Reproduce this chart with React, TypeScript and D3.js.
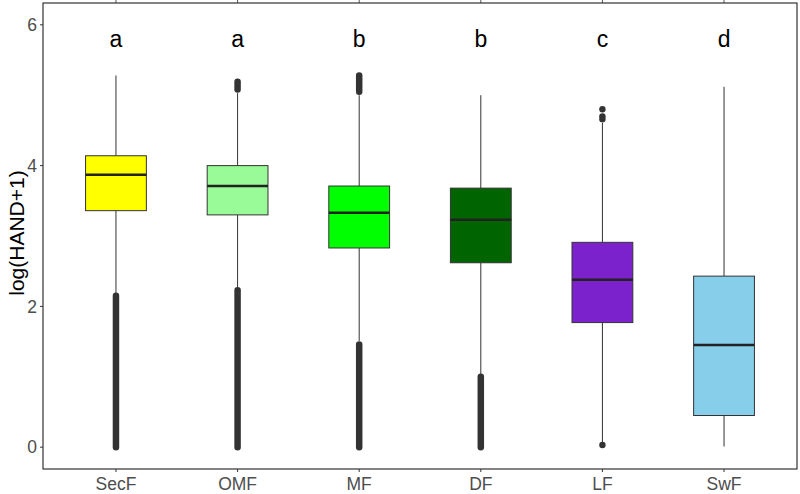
import React from "react";
import * as d3 from "d3";

// categories and box stats
const categories = ["SecF", "OMF", "MF", "DF", "LF", "SwF"];
const letters = ["a", "a", "b", "b", "c", "d"];
const colors = ["#FFFF00", "#98FB98", "#00FF00", "#006400", "#7B22CC", "#87CEEB"];
const q1 = [3.36, 3.3, 2.83, 2.62, 1.77, 0.45];
const median = [3.87, 3.71, 3.33, 3.23, 2.38, 1.45];
const q3 = [4.14, 4.0, 3.71, 3.68, 2.91, 2.43];
const whiskerLow = [2.19, 2.26, 1.51, 1.04, 0.06, 0.01];
const whiskerHigh = [5.28, 5.03, 5.0, 5.0, 4.61, 5.12];
// dense outlier runs [from, to] and single outliers
const outlierRuns: [string, number, number][] = [
  ["SecF", 0, 2.15],
  ["OMF", 0, 2.23],
  ["OMF", 5.08, 5.19],
  ["MF", 0, 1.46],
  ["MF", 5.05, 5.28],
  ["DF", 0, 1.0],
];
const outlierPoints: [string, number][] = [
  ["LF", 4.66],
  ["LF", 4.8],
  ["LF", 4.7],
  ["LF", 0.03],
];
const yTicks = [0, 2, 4, 6];

const W = 800;
const H = 494;
const m = { left: 43, right: 3, top: 3, bottom: 25 };

export default function App() {
  const x = d3
    .scalePoint<string>()
    .domain(categories)
    .range([m.left, W - m.right])
    .padding(0.6);
  const step = x.step();
  const boxW = step * 0.5;
  const y = d3.scaleLinear().domain([-0.31, 6.31]).range([H - m.bottom, m.top]);

  const axisGray = "#4D4D4D";
  const font = "'Liberation Sans', Arial, sans-serif";

  return (
    <svg
      width={W}
      height={H}
      style={{ position: "absolute", left: 0, top: 0, background: "#fff" }}
    >
      {/* top ticks */}
      {categories.map((c) => (
        <line key={"tt" + c} x1={x(c)} x2={x(c)} y1={0} y2={m.top} stroke="#555" strokeWidth={1} />
      ))}
      {/* boxes */}
      {categories.map((c, i) => {
        const cx = x(c)!;
        return (
          <g key={c}>
            <line x1={cx} x2={cx} y1={y(q3[i])} y2={y(whiskerHigh[i])} stroke="#333" strokeWidth={1} />
            <line x1={cx} x2={cx} y1={y(q1[i])} y2={y(whiskerLow[i])} stroke="#333" strokeWidth={1} />
            <rect
              x={cx - boxW / 2}
              y={y(q3[i])}
              width={boxW}
              height={y(q1[i]) - y(q3[i])}
              fill={colors[i]}
              stroke="#333"
              strokeWidth={1}
            />
            <line
              x1={cx - boxW / 2}
              x2={cx + boxW / 2}
              y1={y(median[i])}
              y2={y(median[i])}
              stroke="#222"
              strokeWidth={2.5}
            />
            <text
              x={cx}
              y={y(5.69)}
              textAnchor="middle"
              fontFamily={font}
              fontSize={23}
              fill="#000"
            >
              {letters[i]}
            </text>
          </g>
        );
      })}
      {outlierRuns.map(([c, a, b], i) => (
        <line
          key={"r" + i}
          x1={x(c)}
          x2={x(c)}
          y1={y(a)}
          y2={y(b)}
          stroke="#333"
          strokeWidth={6.5}
          strokeLinecap="round"
        />
      ))}
      {outlierPoints.map(([c, v], i) => (
        <circle key={"p" + i} cx={x(c)} cy={y(v)} r={3.2} fill="#333" />
      ))}
      {/* panel border */}
      <rect
        x={m.left}
        y={m.top}
        width={W - m.left - m.right}
        height={H - m.top - m.bottom}
        fill="none"
        stroke="#333"
        strokeWidth={1.2}
      />
      {/* y axis */}
      {yTicks.map((t) => (
        <g key={"y" + t}>
          <line x1={m.left - 3} x2={m.left} y1={y(t)} y2={y(t)} stroke="#333" />
          <text
            x={m.left - 6}
            y={y(t)}
            dy="0.36em"
            textAnchor="end"
            fontFamily={font}
            fontSize={17.5}
            fill={axisGray}
          >
            {t}
          </text>
        </g>
      ))}
      {/* x axis */}
      {categories.map((c) => (
        <g key={"x" + c}>
          <line x1={x(c)} x2={x(c)} y1={H - m.bottom} y2={H - m.bottom + 3} stroke="#333" />
          <text
            x={x(c)}
            y={H - m.bottom + 21}
            textAnchor="middle"
            fontFamily={font}
            fontSize={17.5}
            fill={axisGray}
          >
            {c}
          </text>
        </g>
      ))}
      <text
        transform={`translate(24,233) rotate(-90)`}
        textAnchor="middle"
        fontFamily={font}
        fontSize={21}
        fill="#000"
      >
        log(HAND+1)
      </text>
    </svg>
  );
}
